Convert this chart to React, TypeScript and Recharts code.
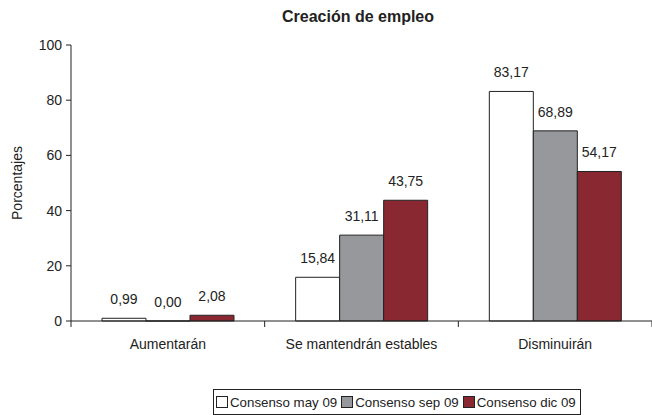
import React from 'react';
import { BarChart, Bar, XAxis, YAxis, LabelList } from 'recharts';

const categories = ['Aumentarán', 'Se mantendrán estables', 'Disminuirán'];
const mayValues = [0.99, 15.84, 83.17];
const sepValues = [0.0, 31.11, 68.89];
const dicValues = [2.08, 43.75, 54.17];
const yTicks = [0, 20, 40, 60, 80, 100];

const series = [
  { key: 'may', name: 'Consenso may 09', color: '#ffffff' },
  { key: 'sep', name: 'Consenso sep 09', color: '#97989c' },
  { key: 'dic', name: 'Consenso dic 09', color: '#8a2832' },
];

const data = categories.map((name, i) => ({
  name,
  may: mayValues[i],
  sep: sepValues[i],
  dic: dicValues[i],
}));

const font = '"Liberation Sans", Arial, sans-serif';
const textColor = '#222';
const W = 652;
const H = 415;
const yAxisW = 71;
const band = (W - yAxisW) / categories.length;
const X_TICK = 6;
const X_MARGIN = 12;

const fmt = (v: any) => Number(v).toFixed(2).replace('.', ',');

// category label plus tick marks on the category boundaries
const CatTick = (props: any) => {
  const { x, y, payload, index } = props;
  const axisY = y - X_TICK - X_MARGIN;
  return (
    <g>
      <line x1={x - band / 2} x2={x - band / 2} y1={axisY} y2={axisY + X_TICK} stroke={textColor} />
      {index === categories.length - 1 && (
        <line x1={x + band / 2} x2={x + band / 2} y1={axisY} y2={axisY + X_TICK} stroke={textColor} />
      )}
      <text x={x} y={y} dy="0.71em" textAnchor="middle" fill={textColor} fontSize={14} fontFamily={font}>
        {payload.value}
      </text>
    </g>
  );
};

const ValueLabel = (props: any) => {
  const { x, y, width, value } = props;
  if (value === undefined || value === null) return null;
  return (
    <text x={x + width / 2} y={y - 14} textAnchor="middle" fill={textColor} fontSize={14} fontFamily={font}>
      {fmt(value)}
    </text>
  );
};

// keeps zero-valued bars (and their labels) in the layout
const minSize = (v: any) => (Number(v) === 0 ? 0.01 : 0);

const App = () => {
  return (
    <div style={{ position: 'absolute', left: 0, top: 0, width: W, height: H, fontFamily: font, background: '#fff' }}>
      <div style={{ position: 'absolute', top: 8, left: 0, width: 716, textAlign: 'center', fontWeight: 'bold', fontSize: 16, lineHeight: '18px', color: textColor }}>
        Creación de empleo
      </div>
      <BarChart
        width={W}
        height={H}
        data={data}
        margin={{ top: 45, right: 0, left: 0, bottom: 64 }}
        barCategoryGap="16%"
        barGap={0}
      >
        <XAxis
          dataKey="name"
          height={30}
          axisLine={{ stroke: textColor }}
          tickLine={false}
          tickSize={X_TICK}
          tickMargin={X_MARGIN}
          tick={<CatTick />}
          interval={0}
        />
        <YAxis
          width={yAxisW}
          domain={[0, 100]}
          ticks={yTicks}
          axisLine={{ stroke: textColor }}
          tickLine={{ stroke: textColor }}
          tickSize={5}
          tickMargin={4}
          tick={{ fill: textColor, fontSize: 14, fontFamily: font }}
          label={{
            value: 'Porcentajes',
            angle: -90,
            position: 'insideLeft',
            offset: 17,
            style: { fill: textColor, fontSize: 14, fontFamily: font, textAnchor: 'middle' },
          }}
        />
        {series.map((s) => (
          <Bar
            key={s.key}
            dataKey={s.key}
            name={s.name}
            fill={s.color}
            stroke={textColor}
            strokeWidth={1}
            minPointSize={minSize}
            isAnimationActive={false}
          >
            <LabelList dataKey={s.key} content={<ValueLabel />} />
          </Bar>
        ))}
      </BarChart>
      <div
        style={{
          position: 'absolute',
          left: 213,
          top: 389,
          width: 368,
          height: 26,
          border: `1px solid ${textColor}`,
          boxSizing: 'border-box',
          display: 'flex',
          alignItems: 'center',
          justifyContent: 'flex-start',
          paddingLeft: 2,
          gap: 4,
          fontSize: 13.3,
          whiteSpace: 'nowrap',
          color: textColor,
        }}
      >
        {series.map((s) => (
          <span key={s.key} style={{ display: 'flex', alignItems: 'center' }}>
            <span
              style={{
                display: 'inline-block',
                width: 12,
                height: 12,
                background: s.color,
                border: `1px solid ${textColor}`,
                marginRight: 2,
                boxSizing: 'border-box',
              }}
            />
            {s.name}
          </span>
        ))}
      </div>
    </div>
  );
};

export default App;
